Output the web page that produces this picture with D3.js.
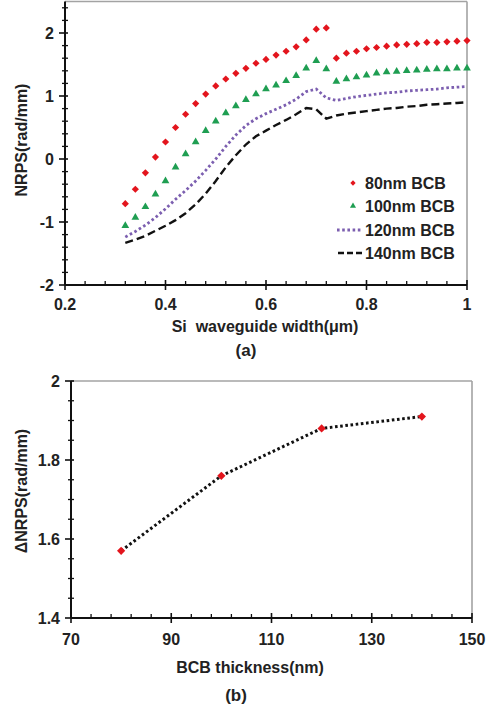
<!DOCTYPE html>
<html><head><meta charset="utf-8">
<script src="https://cdn.jsdelivr.net/npm/d3@7"></script>
<style>
html,body{margin:0;padding:0;background:#fff;}
svg text{font-family:"Liberation Sans",Arial,sans-serif;font-weight:bold;fill:#222;}
</style></head>
<body>
<svg id="c" width="489" height="711"></svg>
<script>
// ---- Data: panel (a) ----
const widths = [0.32,0.34,0.36,0.38,0.40,0.42,0.44,0.46,0.48,0.50,0.52,0.54,0.56,0.58,0.60,0.62,0.64,0.66,0.68,0.70,0.72,0.74,0.76,0.78,0.80,0.82,0.84,0.86,0.88,0.90,0.92,0.94,0.96,0.98,1.00];
const bcb80  = [-0.71,-0.48,-0.22,0.03,0.27,0.50,0.71,0.88,1.03,1.16,1.27,1.36,1.44,1.52,1.58,1.65,1.71,1.78,1.89,2.06,2.08,1.60,1.68,1.71,1.75,1.77,1.79,1.81,1.82,1.83,1.85,1.85,1.86,1.87,1.88];
const bcb100 = [-1.06,-0.93,-0.76,-0.56,-0.35,-0.13,0.08,0.27,0.45,0.60,0.73,0.84,0.94,1.03,1.11,1.17,1.24,1.32,1.44,1.56,1.43,1.23,1.27,1.30,1.33,1.36,1.38,1.39,1.40,1.41,1.42,1.43,1.43,1.44,1.44];
const bcb120 = [-1.24,-1.15,-1.05,-0.93,-0.79,-0.64,-0.50,-0.35,-0.18,0.00,0.20,0.38,0.53,0.64,0.72,0.79,0.86,0.95,1.07,1.11,0.97,0.93,0.96,0.99,1.01,1.03,1.05,1.06,1.08,1.09,1.10,1.11,1.13,1.14,1.15];
const bcb140 = [-1.33,-1.28,-1.22,-1.14,-1.06,-0.97,-0.86,-0.72,-0.55,-0.35,-0.13,0.06,0.23,0.36,0.45,0.54,0.62,0.71,0.81,0.79,0.64,0.69,0.72,0.74,0.76,0.78,0.80,0.81,0.83,0.84,0.86,0.87,0.88,0.89,0.90];
const seriesNames = ["80nm BCB","100nm BCB","120nm BCB","140nm BCB"];
const xTicksA = [0.2,0.4,0.6,0.8,1];
const xTickLabelsA = ["0.2","0.4","0.6","0.8","1"];
const yTicksA = [-2,-1,0,1,2];
const yTickLabelsA = ["-2","-1","0","1","2"];

// ---- Data: panel (b) ----
const thickness = [80,100,120,140];
const deltaNRPS = [1.57,1.76,1.88,1.91];
const xTicksB = [70,90,110,130,150];
const xTickLabelsB = ["70","90","110","130","150"];
const yTicksB = [1.4,1.6,1.8,2];
const yTickLabelsB = ["1.4","1.6","1.8","2"];

const RED="#e3151d", GREEN="#1f9e52", PURPLE="#7c5fb0", BORDER="#a3a3a3";
const svg = d3.select("#c");

function frame(g, x, y, xMajor, xMinor, yMajor, yMinor, xLabels, yLabels, yLabX, xLabY){
  const [x0,x1] = x.range(), [y0,y1] = y.range();
  // top/right border
  g.append("line").attr("x1",x0).attr("x2",x1).attr("y1",y1).attr("y2",y1).attr("stroke",BORDER).attr("stroke-width",1.6);
  g.append("line").attr("x1",x1).attr("x2",x1).attr("y1",y1).attr("y2",y0).attr("stroke",BORDER).attr("stroke-width",1.6);
  // minor ticks
  g.selectAll(null).data(xMinor).enter().append("line")
    .attr("x1",d=>x(d)).attr("x2",d=>x(d)).attr("y1",y0).attr("y2",y0-4).attr("stroke","#111").attr("stroke-width",1.3);
  g.selectAll(null).data(yMinor).enter().append("line")
    .attr("y1",d=>y(d)).attr("y2",d=>y(d)).attr("x1",x0-3).attr("x2",x0+3).attr("stroke","#111").attr("stroke-width",1.3);
  // major ticks
  g.selectAll(null).data(xMajor).enter().append("line")
    .attr("x1",d=>x(d)).attr("x2",d=>x(d)).attr("y1",y0-5).attr("y2",y0+5).attr("stroke","#111").attr("stroke-width",1.6);
  g.selectAll(null).data(yMajor).enter().append("line")
    .attr("y1",d=>y(d)).attr("y2",d=>y(d)).attr("x1",x0-6).attr("x2",x0+3).attr("stroke","#111").attr("stroke-width",1.6);
  // axes
  g.append("line").attr("x1",x0).attr("x2",x1).attr("y1",y0).attr("y2",y0).attr("stroke","#111").attr("stroke-width",2);
  g.append("line").attr("x1",x0).attr("x2",x0).attr("y1",y0).attr("y2",y1).attr("stroke","#111").attr("stroke-width",2);
  // labels
  g.selectAll(null).data(xMajor).enter().append("text")
    .attr("x",d=>x(d)).attr("y",xLabY).attr("text-anchor","middle").attr("font-size",16).text((d,i)=>xLabels[i]);
  g.selectAll(null).data(yMajor).enter().append("text")
    .attr("x",yLabX).attr("y",d=>y(d)).attr("dy","0.36em").attr("text-anchor","end").attr("font-size",16).text((d,i)=>yLabels[i]);
}

// ---------------- Panel (a) ----------------
const xA = d3.scaleLinear().domain([0.2,1]).range([65,467]);
const yA = d3.scaleLinear().domain([-2,2.5]).range([285,1.5]);
const gA = svg.append("g");
const xMinorA = d3.range(0.2,1.0001,0.04).filter(v=>!xTicksA.some(t=>Math.abs(t-v)<1e-6));
const yMinorA = d3.range(-2,2.5001,0.2).filter(v=>!yTicksA.some(t=>Math.abs(t-v)<1e-6));
frame(gA,xA,yA,xTicksA,xMinorA,yTicksA,yMinorA,xTickLabelsA,yTickLabelsA,54,310);

const lineA = d3.line().x((d,i)=>xA(widths[i])).y(d=>yA(d));
gA.append("path").datum(bcb140).attr("d",lineA).attr("fill","none").attr("stroke","#111")
  .attr("stroke-width",2.4).attr("stroke-dasharray","8 4");
gA.append("path").datum(bcb120).attr("d",lineA).attr("fill","none").attr("stroke",PURPLE)
  .attr("stroke-width",2.8).attr("stroke-dasharray","2.6 2.6");
const tri = d3.symbol().type(d3.symbolTriangle).size(26);
gA.selectAll(null).data(bcb100).enter().append("path").attr("d",tri)
  .attr("transform",(d,i)=>`translate(${xA(widths[i])},${yA(d)})`).attr("fill",GREEN);
const dia = d3.symbol().type(d3.symbolSquare).size(26);
gA.selectAll(null).data(bcb80).enter().append("path").attr("d",dia)
  .attr("transform",(d,i)=>`translate(${xA(widths[i])},${yA(d)}) rotate(45)`).attr("fill",RED);

// legend
const lg = gA.append("g");
const legY = [183,206,230,253];
lg.append("path").attr("d",d3.symbol().type(d3.symbolSquare).size(14)).attr("transform",`translate(353,${legY[0]}) rotate(45)`).attr("fill",RED);
lg.append("path").attr("d",d3.symbol().type(d3.symbolTriangle).size(16)).attr("transform",`translate(353,${legY[1]})`).attr("fill",GREEN);
lg.append("line").attr("x1",337).attr("x2",363).attr("y1",legY[2]).attr("y2",legY[2]).attr("stroke",PURPLE).attr("stroke-width",2.8).attr("stroke-dasharray","2.6 2.6");
lg.append("line").attr("x1",338).attr("x2",364).attr("y1",legY[3]).attr("y2",legY[3]).attr("stroke","#111").attr("stroke-width",2.4).attr("stroke-dasharray","6 3");
lg.selectAll(null).data(seriesNames).enter().append("text")
  .attr("x",365).attr("y",(d,i)=>legY[i]).attr("dy","0.36em").attr("font-size",16).text(d=>d);

gA.append("text").attr("x",265).attr("y",332).attr("text-anchor","middle").attr("font-size",16).attr("xml:space","preserve").text("Si  waveguide width(μm)");
gA.append("text").attr("transform","translate(27,140) rotate(-90)").attr("text-anchor","middle").attr("font-size",16).text("NRPS(rad/mm)");
gA.append("text").attr("x",246).attr("y",356).attr("text-anchor","middle").attr("font-size",17).text("(a)");

// ---------------- Panel (b) ----------------
const xB = d3.scaleLinear().domain([70,150]).range([71,472]);
const yB = d3.scaleLinear().domain([1.4,2]).range([618,381]);
const gB = svg.append("g");
const xMinorB = d3.range(70,150.001,4).filter(v=>!xTicksB.includes(v));
const yMinorB = d3.range(1.4,2.0001,0.05).filter(v=>!yTicksB.some(t=>Math.abs(t-v)<1e-6));
frame(gB,xB,yB,xTicksB,xMinorB,yTicksB,yMinorB,xTickLabelsB,yTickLabelsB,60,645);

const lineB = d3.line().x((d,i)=>xB(thickness[i])).y(d=>yB(d));
gB.append("path").datum(deltaNRPS).attr("d",lineB).attr("fill","none").attr("stroke","#111")
  .attr("stroke-width",3).attr("stroke-dasharray","2.6 2.6");
const diaB = d3.symbol().type(d3.symbolSquare).size(34);
gB.selectAll(null).data(deltaNRPS).enter().append("path").attr("d",diaB)
  .attr("transform",(d,i)=>`translate(${xB(thickness[i])},${yB(d)}) rotate(45)`).attr("fill",RED);

gB.append("text").attr("x",250).attr("y",673).attr("text-anchor","middle").attr("font-size",16).text("BCB thickness(nm)");
gB.append("text").attr("transform","translate(27,491) rotate(-90)").attr("text-anchor","middle").attr("font-size",16).text("ΔNRPS(rad/mm)");
gB.append("text").attr("x",236).attr("y",701).attr("text-anchor","middle").attr("font-size",17).text("(b)");
</script>
</body></html>
